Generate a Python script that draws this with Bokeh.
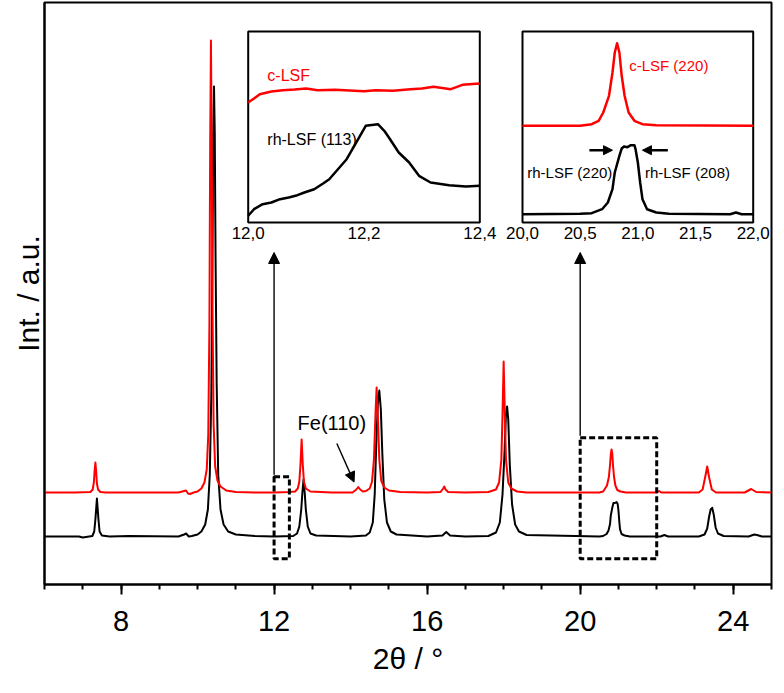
from bokeh.plotting import figure
from bokeh.models import Range1d, SingleIntervalTicker, FixedTicker, Arrow, NormalHead
from bokeh.core.properties import value
from bokeh.embed import file_html
from bokeh.resources import INLINE

# ---------------- data (2theta in degrees, intensity in arbitrary units) ----------------
red_x = [6.0, 6.8, 7.2, 7.26, 7.29, 7.31, 7.33, 7.35, 7.37, 7.40, 7.46, 7.6, 8.5, 9.5, 9.65, 9.7, 9.75,
         9.8, 9.9, 10.0, 10.1, 10.18, 10.24, 10.28, 10.31, 10.33, 10.35, 10.37, 10.39, 10.42, 10.46,
         10.52, 10.6, 10.75, 11.0, 11.5, 12.0, 12.4, 12.55, 12.62, 12.66, 12.69, 12.72, 12.75, 12.78,
         12.83, 12.95, 13.5, 14.05, 14.15, 14.2, 14.25, 14.32, 14.4, 14.5, 14.56, 14.61, 14.65, 14.68,
         14.71, 14.75, 14.8, 14.88, 15.0, 15.3, 16.0, 16.35, 16.42, 16.45, 16.48, 16.55, 17.0, 17.6,
         17.8, 17.88, 17.94, 17.97, 18.0, 18.03, 18.06, 18.12, 18.2, 18.35, 18.6, 20.5, 20.6, 20.7,
         20.75, 20.78, 20.80, 20.82, 20.84, 20.86, 20.885, 20.92, 20.97, 21.05, 21.2, 22.0, 22.06,
         22.12, 23.1, 23.2, 23.27, 23.32, 23.37, 23.44, 23.55, 24.3, 24.47, 24.6, 25.0]
red_y = [92, 92, 92.5, 95, 102, 114, 122, 113, 101, 95, 92.5, 92, 92, 92, 93.5, 94, 91,
         90.5, 92, 93, 96, 102, 115, 150, 260, 440, 544, 440, 280, 160, 118,
         104, 98, 94, 92.5, 92, 92, 92.5, 93, 96, 103, 120, 145, 120, 103,
         96, 93, 92, 92, 95, 97.5, 95, 93, 93.5, 96, 103, 125, 170, 197,
         170, 125, 104, 97, 94, 92.5, 92, 92.5, 96, 98, 95, 92.5, 92, 92.5,
         95, 102, 125, 170, 223, 170, 125, 102, 96, 93, 92, 92, 93, 99,
         107.5, 119.5, 130, 135, 130, 118, 107.5, 99, 94.5, 93, 92, 92, 93.5,
         92, 92, 95, 108, 118, 107, 95, 92, 92, 95.5, 92.5, 92]

blk_x = [6.0, 6.9, 7.0, 7.25, 7.3, 7.33, 7.37, 7.41, 7.44, 7.5, 7.7, 8.2, 9.5, 9.65, 9.7, 9.77, 9.85,
         10.0, 10.1, 10.2, 10.27, 10.32, 10.36, 10.39, 10.41, 10.43, 10.45, 10.47, 10.5, 10.54, 10.6,
         10.68, 10.8, 11.0, 11.5, 12.0, 12.5, 12.6, 12.66, 12.71, 12.74, 12.77, 12.8, 12.83, 12.88,
         12.95, 13.1, 14.0, 14.4, 14.5, 14.58, 14.63, 14.67, 14.71, 14.75, 14.79, 14.83, 14.88, 14.95,
         15.05, 15.2, 16.0, 16.4, 16.5, 16.6, 17.0, 17.6, 17.8, 17.9, 17.97, 18.02, 18.06, 18.09,
         18.12, 18.16, 18.22, 18.3, 18.4, 18.6, 20.5, 20.6, 20.69, 20.74, 20.78, 20.80, 20.84, 20.87,
         20.91, 20.95, 20.98, 21.0, 21.02, 21.04, 21.08, 21.16, 21.3, 22.1, 22.2, 22.3, 23.1, 23.25,
         23.32, 23.37, 23.41, 23.45, 23.49, 23.54, 23.6, 23.75, 24.4, 24.55, 24.62, 24.75, 25.0]
blk_y = [48, 48, 47, 48.5, 53, 65, 86, 65, 53, 49, 48, 48.5, 48, 50, 51, 48, 48.5,
         50, 53, 60, 75, 110, 190, 330, 450, 498, 450, 330, 200, 110, 75,
         60, 53, 50, 48.5, 48, 48.5, 51, 58, 75, 92, 105, 92, 75, 58,
         51, 49, 48, 49, 52, 62, 90, 140, 180, 194, 175, 130, 85, 62,
         53, 50, 48, 49, 52.4, 49, 48, 48.5, 52, 62, 90, 130, 170, 178,
         165, 120, 80, 60, 53, 49.5, 48, 48.5, 50.5, 54, 60.5, 69, 77, 81.5,
         81.5, 82.4, 80.5, 74, 64, 55.5, 50.5, 49, 48, 48, 49.5, 48, 48, 50,
         56, 68, 75, 76.7, 70, 57, 51, 48.5, 48, 50, 49.5, 48, 48]

# inset 1 (12.0 - 12.4)
in1_red_x = [12.0, 12.01, 12.02, 12.04, 12.06, 12.08, 12.1, 12.12, 12.15, 12.2, 12.22, 12.25, 12.28,
             12.3, 12.32, 12.35, 12.37, 12.4]
in1_red_y = [120, 124, 128.3, 131, 132.3, 133, 134, 132.3, 132.7, 131.3, 132.3, 131.7, 133.3,
             134, 135.7, 133.3, 137.7, 139]
in1_blk_x = [12.0, 12.01, 12.025, 12.04, 12.055, 12.07, 12.085, 12.097, 12.114, 12.13, 12.14, 12.155,
             12.17, 12.185, 12.203, 12.224, 12.235, 12.243, 12.26, 12.278, 12.295, 12.315, 12.347,
             12.376, 12.4]
in1_blk_y = [6.7, 13.3, 18.3, 20, 23.3, 25, 27.3, 30, 33.3, 39.3, 43.3, 53.3,
             63.3, 78.3, 96.7, 98.3, 91.7, 85, 70, 60, 46.7, 40, 37.3,
             36, 36.7]
in1_ticks = [12.0, 12.2, 12.4]
in1_labels = ["12,0", "12,2", "12,4"]

# inset 2 (20.0 - 22.0)
in2_red_x = [20.0, 20.5, 20.6, 20.66, 20.7, 20.75, 20.78, 20.8, 20.82, 20.84, 20.86, 20.885, 20.92,
             20.97, 21.04, 21.16, 22.0]
in2_red_y = [96.7, 96.7, 98.3, 101.7, 110, 126.7, 150, 170, 179.3, 170, 146.7, 126.7, 110,
             101.7, 98.3, 97.3, 96.7]
in2_blk_x = [20.0, 20.5, 20.6, 20.69, 20.74, 20.78, 20.8, 20.84, 20.86, 20.88, 20.91, 20.94, 20.97,
             20.98, 21.0, 21.02, 21.04, 21.08, 21.16, 21.27, 21.8, 21.85, 21.9, 22.0]
in2_blk_y = [8.3, 8.7, 9.3, 13.3, 20, 33.3, 50, 66.7, 74, 76, 75.3, 77.3, 77.3,
             73.3, 60, 40, 23.3, 13.3, 10, 8.7, 8.3, 10, 8.3, 8.3]
in2_ticks = [20.0, 20.5, 21.0, 21.5, 22.0]
in2_labels = ["20,0", "20,5", "21,0", "21,5", "22,0"]

# annotations
zoom_boxes = {"left": [12.0, 20.0], "right": [12.4, 22.0], "bottom": [25.7, 25.7], "top": [107.7, 146.7]}
fe_label = ("Fe(110)", 13.51, 161.7)

# ---------------- layout ----------------
W, H = 776, 685
FL, FR, FT, FB = 44, 771, 2, 584          # frame edges in figure pixels
FW, FHt = FR - FL, FB - FT
INSET_TOP_PX, INSET_BOT_PX = 31, 222      # inset frame top/bottom (figure px)
IN1_PX = (247.7, 479.3)
IN2_PX = (522.0, 752.7)
INSET_H = INSET_BOT_PX - INSET_TOP_PX

RED = "#ff0000"
BLK = "#000000"
FONT = "Liberation Sans"

p = figure(width=W, height=H, output_backend="svg", toolbar_location=None,
           x_range=Range1d(6, 25), y_range=Range1d(0, FHt),
           min_border_left=FL, min_border_right=W - FR, min_border_top=FT, min_border_bottom=H - FB)
p.grid.visible = False
p.outline_line_color = "black"
p.outline_line_width = 2
p.background_fill_color = "white"
p.border_fill_color = "white"


def xr(px_pair, x0, x1):
    a, b = (px_pair[0] - FL), (px_pair[1] - FL)
    s = (b - a) / (x1 - x0)
    start = x0 - a / s
    return Range1d(start, start + FW / s)


p.extra_x_ranges = {"in1": xr(IN1_PX, 12.0, 12.4), "in2": xr(IN2_PX, 20.0, 22.0)}
ins_bottom = FB - INSET_BOT_PX
p.extra_y_ranges = {"ins": Range1d(-ins_bottom, FHt - ins_bottom)}

# axes
xa = p.xaxis[0]
xa.ticker = SingleIntervalTicker(interval=4, num_minor_ticks=4)
xa.axis_label = "2θ / °"
xa.axis_label_text_font = FONT
xa.axis_label_text_font_size = "30px"
xa.axis_label_text_font_style = "normal"
xa.axis_label_standoff = 8
xa.major_label_text_font = FONT
xa.major_label_text_font_size = "29px"
xa.major_label_standoff = 16
xa.axis_line_width = 2
xa.major_tick_line_width = 2
xa.minor_tick_line_width = 2
xa.major_tick_out = 10
xa.major_tick_in = 0
xa.minor_tick_out = 5
xa.minor_tick_in = 0
xa.major_label_text_color = "black"
xa.axis_label_text_color = "black"

ya = p.yaxis[0]
ya.ticker = FixedTicker(ticks=[])
ya.axis_label = "Int. / a.u."
ya.axis_label_text_font = FONT
ya.axis_label_text_font_size = "30px"
ya.axis_label_text_font_style = "normal"
ya.axis_label_standoff = 0
ya.axis_line_width = 2
ya.major_tick_out = 0
ya.minor_tick_out = 0
ya.axis_label_text_color = "black"

# main curves
p.line(blk_x, blk_y, line_color=BLK, line_width=2, line_join="round")
p.line(red_x, red_y, line_color=RED, line_width=2, line_join="round")

# dashed zoom boxes
p.quad(left=zoom_boxes["left"], right=zoom_boxes["right"], bottom=zoom_boxes["bottom"],
       top=zoom_boxes["top"], fill_alpha=0, line_color="black", line_width=3, line_dash="6 3")

# arrows from boxes to insets
tip_y = FB - 252  # just below the inset tick labels
for bx, by in zip(zoom_boxes["left"], zoom_boxes["top"]):
    p.add_layout(Arrow(end=NormalHead(size=11, fill_color="black", line_color="black"),
                       x_start=bx, y_start=by + 2, x_end=bx, y_end=tip_y,
                       line_color="black", line_width=1.4))

# Fe(110) annotation
p.text(x=[fe_label[1]], y=[fe_label[2]], text=[fe_label[0]], text_font=value(FONT),
       text_font_size="20px", text_align="center", text_baseline="middle", text_color="black")
p.add_layout(Arrow(end=NormalHead(size=10, fill_color="black", line_color="black"),
                   x_start=13.64, y_start=141, x_end=14.09, y_end=102.4,
                   line_color="black", line_width=1.4))

# insets
for name, x0, x1 in (("in1", 12.0, 12.4), ("in2", 20.0, 22.0)):
    p.quad(left=[x0], right=[x1], bottom=[0], top=[INSET_H], x_range_name=name, y_range_name="ins",
           fill_color="white", line_color="black", line_width=2)

p.line(in1_red_x, in1_red_y, x_range_name="in1", y_range_name="ins", line_color=RED, line_width=2.5,
       line_join="round")
p.line(in1_blk_x, in1_blk_y, x_range_name="in1", y_range_name="ins", line_color=BLK, line_width=2.5,
       line_join="round")
p.line(in2_red_x, in2_red_y, x_range_name="in2", y_range_name="ins", line_color=RED, line_width=2.5,
       line_join="round")
p.line(in2_blk_x, in2_blk_y, x_range_name="in2", y_range_name="ins", line_color=BLK, line_width=2.5,
       line_join="round")

for name, ticks, labels in (("in1", in1_ticks, in1_labels), ("in2", in2_ticks, in2_labels)):
    p.text(x=ticks, y=[0] * len(ticks), text=labels, x_range_name=name, y_range_name="ins",
           text_font=value(FONT), text_font_size="17px", text_align="center", text_baseline="top",
           y_offset=4, text_color="black")

# inset texts
p.text(x=[12.033], y=[147.3], text=["c-LSF"], x_range_name="in1", y_range_name="ins",
       text_font=value(FONT), text_font_size="16px", text_align="left", text_baseline="middle",
       text_color=RED)
p.text(x=[12.033], y=[83.3], text=["rh-LSF (113)"], x_range_name="in1", y_range_name="ins",
       text_font=value(FONT), text_font_size="16px", text_align="left", text_baseline="middle",
       text_color="black")
p.text(x=[20.925], y=[157.3], text=["c-LSF (220)"], x_range_name="in2", y_range_name="ins",
       text_font=value(FONT), text_font_size="15px", text_align="left", text_baseline="middle",
       text_color=RED)
p.text(x=[20.41, 21.43], y=[50, 50], text=["rh-LSF (220)", "rh-LSF (208)"], x_range_name="in2",
       y_range_name="ins", text_font=value(FONT), text_font_size="15px", text_align="center",
       text_baseline="middle", text_color="black")
for xs, xe in ((20.58, 20.78), (21.26, 21.04)):
    p.add_layout(Arrow(end=NormalHead(size=9, fill_color="black", line_color="black"),
                       x_start=xs, y_start=72.3, x_end=xe, y_end=72.3,
                       x_range_name="in2", y_range_name="ins", line_color="black", line_width=2.5))

open("out.html", "w").write(file_html(p, INLINE))
